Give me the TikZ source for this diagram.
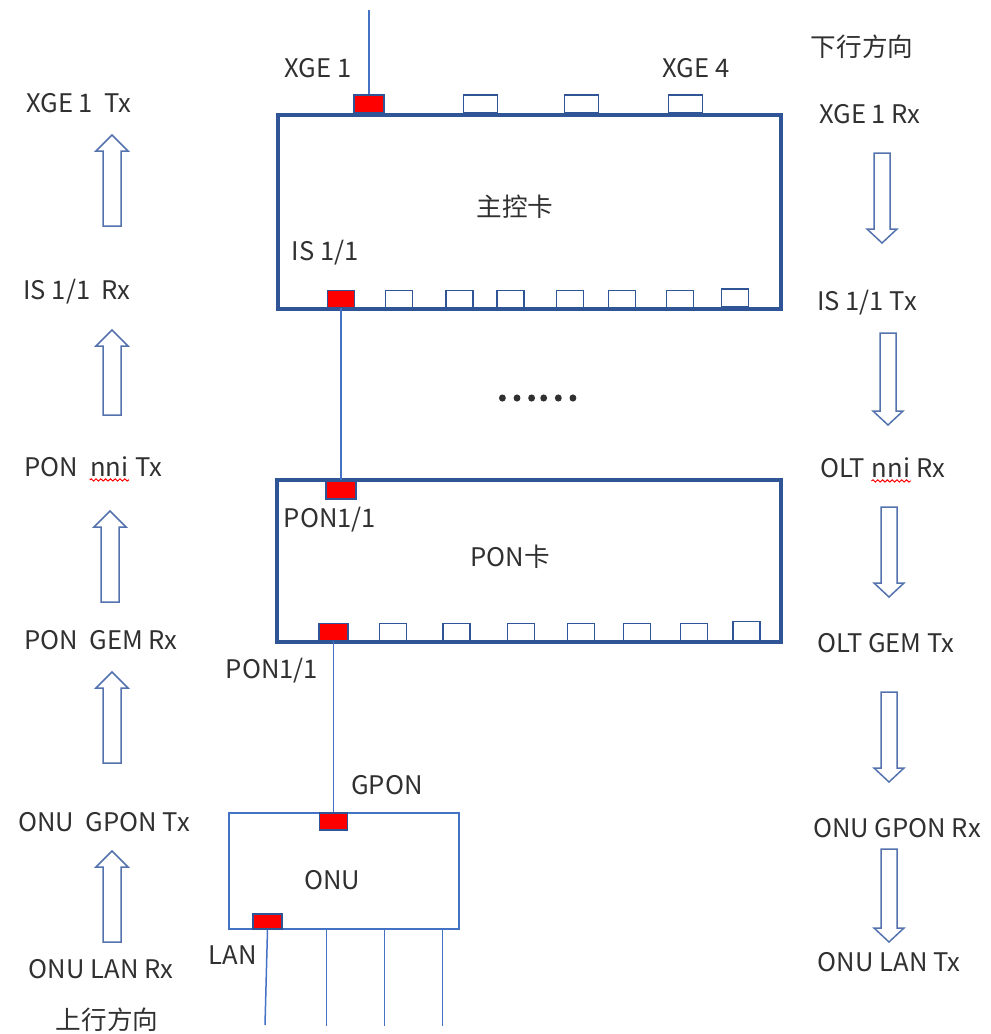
\documentclass[tikz,border=0pt]{standalone}
\usepackage{fontspec}
\setmainfont{Noto Sans CJK SC}
\usetikzlibrary{calc, decorations.pathmorphing}
\definecolor{rahmen}{HTML}{2F5597}
\definecolor{linie}{HTML}{4472C4}
\definecolor{pfeil}{HTML}{5473AE}
\definecolor{schrift}{HTML}{303030}
% rote Wellenlinie unter einem Wort
\newcommand{\wellig}[1]{\tikz[baseline=(w.base)]{\node[inner sep=0pt] (w) {#1};
  \draw[red, line width=0.5pt, decorate, decoration={snake, amplitude=0.55pt, segment length=2.4pt}]
  ([yshift=-1.6pt]w.south west) -- ([yshift=-1.6pt]w.south east);}}

\begin{document}
\begin{tikzpicture}[x=0.5pt, y=-0.5pt,
    card/.style={draw=rahmen, line width=2pt, inner sep=0pt, minimum width=#1},
    port/.style={draw=rahmen, line width=0.7pt, fill=#1, inner sep=0pt, minimum width=13.5pt, minimum height=8.5pt},
    link/.style={draw=linie, line width=0.75pt},
    hollow/.style={draw=pfeil, line width=0.75pt, fill=white},
    lbl/.style={text=schrift, inner sep=0pt},
    font=\fontsize{12.8}{14}\selectfont]
  \useasboundingbox (0,0) rectangle (991,1034);
  %Karten zeichnen
  \node[card=251.75pt, minimum height=97pt] (mcu) at (529.25,212) {};
  \node[card=252pt, minimum height=81pt] (pon) at (529,561) {};
  \node[card=115pt, minimum height=58pt, line width=0.75pt, draw=linie] (onu) at (344,871) {};
  %Ports
  \node[port=red, minimum width=15pt, minimum height=9pt] (xge1) at (369,104) {};
  \foreach \x/\name in {480.5/xge2, 581.5/xge3, 685.5/xge4}
    \node[port=white, minimum width=17pt, minimum height=9pt] (\name) at (\x,104) {};
  \node[port=red] (is11) at (341,299) {};
  \foreach \x in {399,459.5,510.5,570,622,680}
    \node[port=white] at (\x,299) {};
  \node[port=white, minimum height=9pt] at (735,298) {};
  \node[port=red, minimum width=15pt, minimum height=9pt] (ponup) at (341,490) {};
  \node[port=red, minimum width=14.5pt] (pondn) at (333.5,632) {};
  \foreach \x in {393,456.5,521,581,637,694}
    \node[port=white] at (\x,632) {};
  \node[port=white, minimum height=9.5pt] at (746.5,631) {};
  \node[port=red, minimum width=14pt] (gpon) at (333.5,821.5) {};
  \node[port=red, minimum width=14.5pt, minimum height=7.5pt] (lan) at (267.5,921.5) {};
  %Verbindungen
  \coordinate (oben) at (369,10);
  \draw[link] (oben) -- (xge1.north);
  \draw[link] (is11.south) -- (ponup.north);
  \draw[link] (pondn.south) -- (gpon.north);
  \coordinate (lan1) at (265,1025);
  \draw[link] (lan.south) -- (lan1);
  \foreach \dx in {98,156,214}
    \draw[link] ($(onu.south west)+(\dx,0)$) -- ($(onu.south west)+(\dx,96)$);
  %Pfeile links (aufwaerts)
  \foreach \cx/\tip/\bot in {112/135/226, 112/330/415, 110/511/602, 112/672/763, 112/851/942}
    \draw[hollow] ({\cx-9},\bot) -- ({\cx-9},{\tip+16}) -- ({\cx-16},{\tip+16}) -- (\cx,\tip)
      -- ({\cx+16},{\tip+16}) -- ({\cx+9},{\tip+16}) -- ({\cx+9},\bot) -- cycle;
  %Pfeile rechts (abwaerts)
  \foreach \cx/\top/\tip in {882/153/243, 888/333/425, 889/507/597, 889/692/782, 889/849/942}
    \draw[hollow] ({\cx-8},\top) -- ({\cx-8},{\tip-14}) -- ({\cx-15},{\tip-14}) -- (\cx,\tip)
      -- ({\cx+15},{\tip-14}) -- ({\cx+8},{\tip-14}) -- ({\cx+8},\top) -- cycle;
  %Beschriftung links
  \node[lbl] (l1) at (79,103) {XGE 1~ Tx};
  \node[lbl] (l2) at (77,292) {IS 1/1~ Rx};
  \node[lbl] (l3) at (93,469) {PON~ \wellig{nni} Tx};
  \node[lbl] (l4) at (101,640) {PON~ GEM Rx};
  \node[lbl] (l5) at (104,822) {ONU~ GPON Tx};
  \node[lbl] (l6) at (101,969) {ONU LAN Rx};
  \node[lbl] (auf) at (107,1020) {上行方向};
  %Beschriftung rechts
  \node[lbl] (ab) at (862,47) {下行方向};
  \node[lbl] (r1) at (870,114) {XGE 1 Rx};
  \node[lbl] (r2) at (867,303) {IS 1/1 Tx};
  \node[lbl] (r3) at (883,470) {OLT \wellig{nni} Rx};
  \node[lbl] (r4) at (886,643) {OLT GEM Tx};
  \node[lbl] (r5) at (897,828) {ONU GPON Rx};
  \node[lbl] (r6) at (889,962) {ONU LAN Tx};
  %Beschriftung Mitte
  \node[lbl] (txge1) at (318,68) {XGE 1};
  \node[lbl] (txge4) at (696,68) {XGE 4};
  \node[lbl] (tmcu) at (515,207) {主控卡};
  \node[lbl] (tis) at (325,253) {IS 1/1};
  \node[lbl, font=\fontsize{19.5}{20}\selectfont\addfontfeature{FakeBold=4}] (dots) at (537,398) {……};
  \node[lbl] (tpon1) at (330,520) {PON1/1};
  \node[lbl] (tpon) at (510,557) {PON卡};
  \node[lbl] (tpon2) at (272,671) {PON1/1};
  \node[lbl] (tgpon) at (387,785) {GPON};
  \node[lbl] (tonu) at (332,880) {ONU};
  \node[lbl] (tlan) at (233,955) {LAN};
\end{tikzpicture}
\end{document}
